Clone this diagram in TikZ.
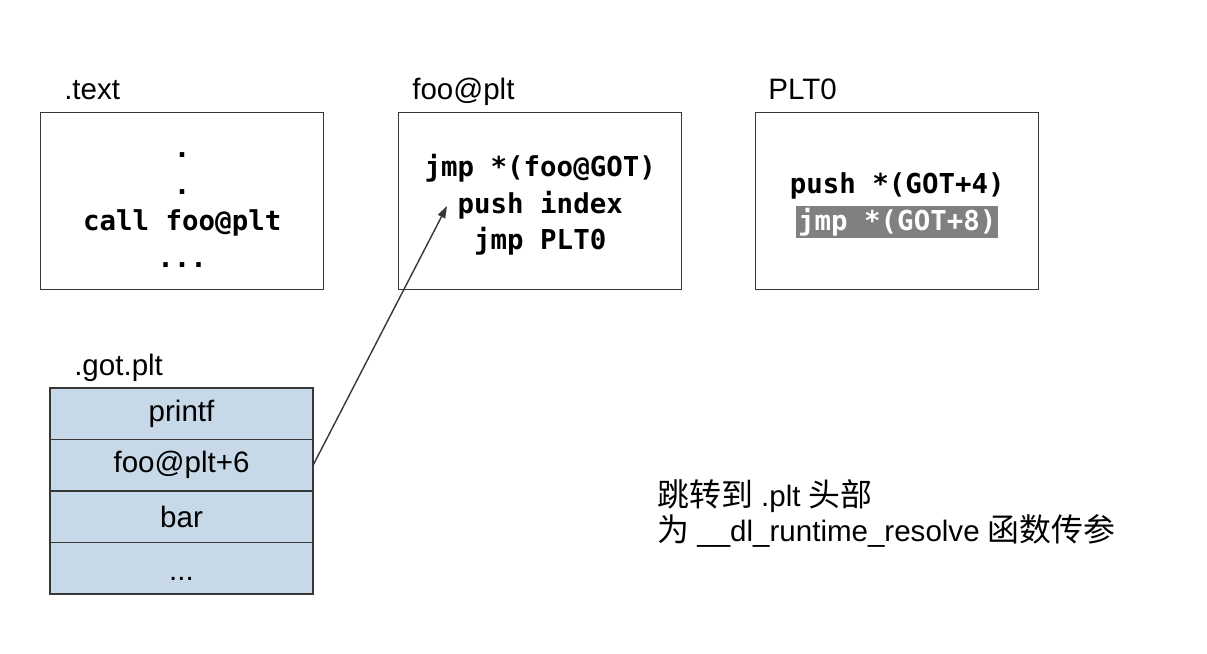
\documentclass[tikz,border=0pt]{standalone}
\usepackage{fontspec}
\setmainfont{Liberation Sans}
\setmonofont{DejaVu Sans Mono}
\newfontfamily\cjk{Noto Sans CJK SC}[Scale=1.08]
\usetikzlibrary{positioning,arrows.meta}
\definecolor{cellblue}{RGB}{199,216,233}
\definecolor{edgegray}{RGB}{55,55,55}
\definecolor{hlgray}{RGB}{128,128,128}
\tikzset{
  secbox/.style={draw=edgegray, line width=1pt, minimum width=7.075cm,
    minimum height=4.425cm, align=center, anchor=north west,
    font=\ttfamily\bfseries\fontsize{19.5}{25.9}\selectfont},
  seclabel/.style={anchor=base west, inner sep=0pt,
    font=\fontsize{21}{25}\selectfont},
  gotcell/.style={draw=edgegray, line width=0.9pt, fill=cellblue,
    minimum width=6.575cm, minimum height=1.2875cm, outer sep=0pt,
    font=\fontsize{21}{25}\selectfont},
}

\begin{document}
\begin{tikzpicture}[x=0.025cm, y=-0.025cm]
\useasboundingbox (0,0) rectangle (1207,653);

% code sections
\node[secbox] (textsec) at (40,112)
    {\rule{0pt}{16pt}.\\.\\call foo@plt\\...};
\node[secbox] (pltsec) at (398,112)
    {\rule{0pt}{21pt}jmp *(foo@GOT)\\push index\\jmp PLT0};
\node[secbox] (pltzero) at (755,112)
    {\rule{0pt}{21pt}push *(GOT+4)\\{\setlength{\fboxsep}{1.5pt}\colorbox{hlgray}{\color{white}jmp *(GOT+8)}}};

\node[seclabel] (textlbl) at ([xshift=0.6cm, yshift=0.325cm]textsec.north west) {.text};
\node[seclabel] (pltlbl) at ([xshift=0.35cm, yshift=0.325cm]pltsec.north west) {foo@plt};
\node[seclabel] (zerolbl) at ([xshift=0.33cm, yshift=0.325cm]pltzero.north west) {PLT0};

% got table
\node[gotcell, anchor=north west] (gotprintf) at (50,388) {printf};
\node[gotcell, below=0pt of gotprintf] (gotfoo) {foo@plt+6};
\node[gotcell, below=0pt of gotfoo] (gotbar) {bar};
\node[gotcell, below=0pt of gotbar] (gotmore) {\rule{0pt}{17pt}...};
\node[seclabel] (gotlbl) at ([xshift=0.6cm, yshift=0.325cm]gotprintf.north west) {.got.plt};

\coordinate (pushtip) at (447,206);
\draw[edgegray, line width=1pt, -{Triangle[length=0.3cm, width=0.2cm]}]
    (gotfoo.east) -- (pushtip);

% note
\node[anchor=north west, align=left, inner sep=0pt,
    font=\fontsize{21}{24.9}\selectfont] (note) at (657,479)
    {{\cjk 跳转到} .plt {\cjk 头部}\\{\cjk 为} \_\_dl\_runtime\_resolve {\cjk 函数传参}};

\end{tikzpicture}
\end{document}
